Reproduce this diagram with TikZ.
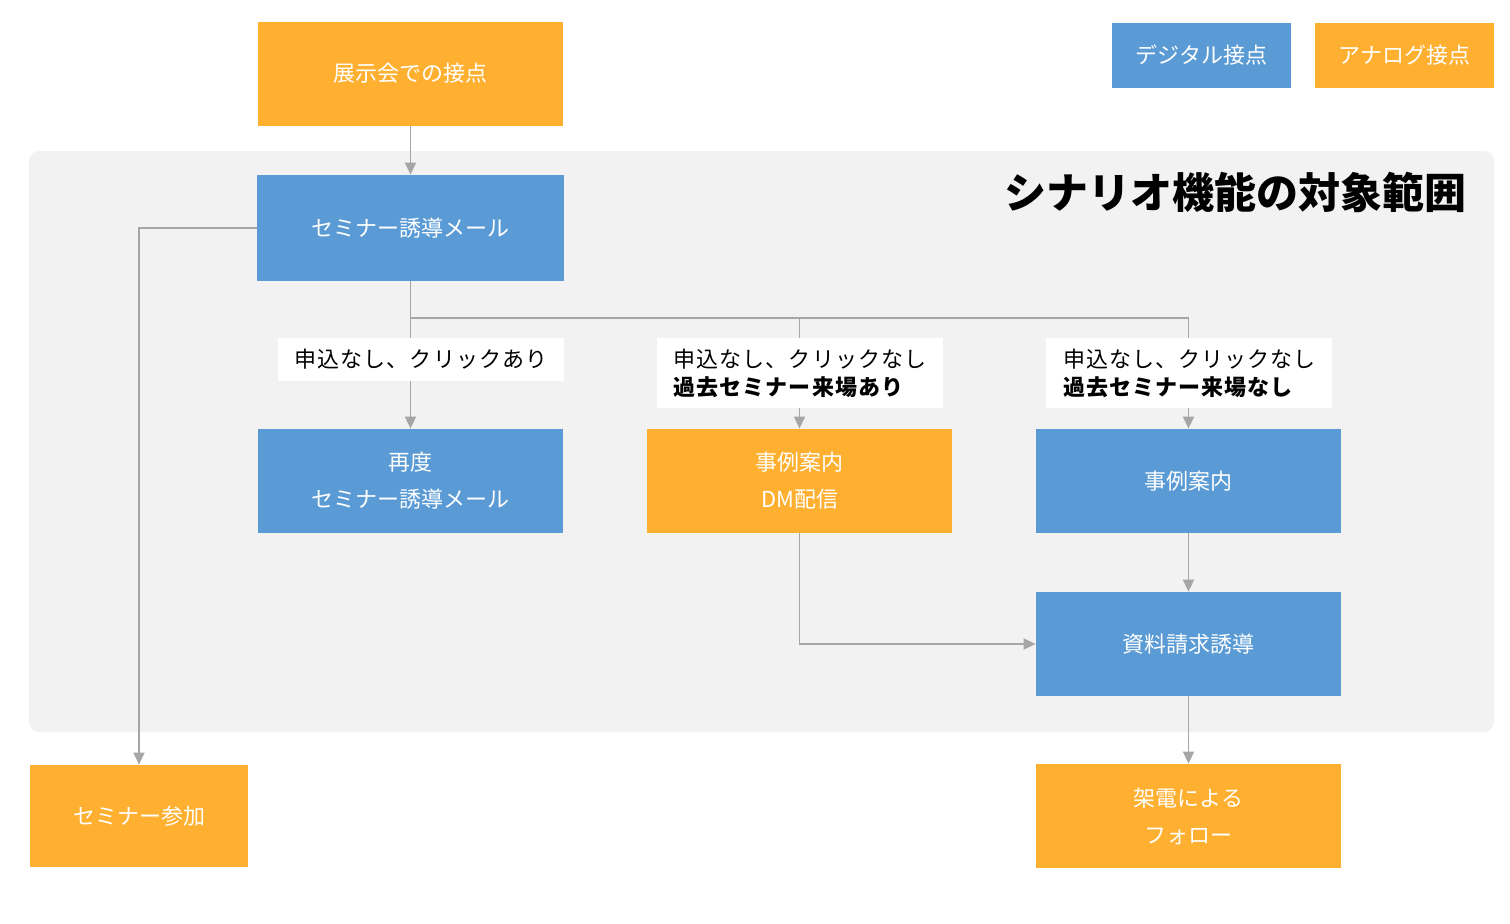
\documentclass[tikz,border=0pt]{standalone}
\usepackage{fontspec}
\usetikzlibrary{arrows.meta}
\newfontfamily\jp{Noto Sans CJK JP}
\newfontfamily\jpwide[LetterSpace=5]{Noto Sans CJK JP}
\definecolor{digiblue}{HTML}{5B9BD5}
\definecolor{anaorange}{HTML}{FFB030}
\definecolor{areagray}{HTML}{F2F2F2}
\definecolor{linegray}{HTML}{A6A6A6}
\tikzset{
	digital/.style={fill=digiblue, text=white, align=center, minimum width=152.5pt, minimum height=52pt, font=\jp\fontsize{11}{18.5}\selectfont},
	analog/.style={digital, fill=anaorange},
	lbl/.style={fill=white, inner xsep=8.5pt, inner ysep=0pt, minimum height=21.5pt, text width=126pt, align=left, font=\jpwide\fontsize{11}{14}\selectfont},
	conn/.style={draw=linegray, line width=0.8pt},
	arr/.style={conn, -{Triangle[length=6pt,width=5.5pt]}, color=linegray}
}
\begin{document}
\begin{tikzpicture}[x=0.5pt, y=-0.5pt]
	\useasboundingbox (0,0) rectangle (1510,923);
	% area of the scenario function
	\fill[areagray, rounded corners=5pt] (29,151) rectangle (1494,732);
	\node[anchor=east, inner sep=0pt, font=\jp\bfseries\fontsize{21}{24}\selectfont] (title) at (1467,192) {シナリオ機能の対象範囲};

	% legend
	\node[digital, minimum width=89.5pt, minimum height=32.5pt] (legdig) at (1201.5,55.5) {デジタル接点};
	\node[analog, minimum width=89.5pt, minimum height=32.5pt] (legana) at (1404.5,55.5) {アナログ接点};

	% boxes
	\node[analog] (tenji) at (410.5,73.5) {展示会での接点};
	\node[digital, minimum width=153.5pt, minimum height=53pt] (mail) at (410.5,228) {セミナー誘導メール};
	\node[digital] (saido) at (410.5,481) {再度\\セミナー誘導メール};
	\node[analog] (dm) at (799.5,481) {事例案内\\DM配信};
	\node[digital] (jirei) at (1188.5,481) {事例案内};
	\node[digital] (shiryo) at (1188.5,644) {資料請求誘導};
	\node[analog] (kaden) at (1188.5,816) {架電による\\フォロー};
	\node[analog, minimum width=109pt, minimum height=51pt] (sanka) at (139,816) {セミナー参加};

	% connectors
	\coordinate (fork) at (410.5,318);
	\draw[arr] (tenji) -- (mail);
	\draw[arr] (mail.west) -| (sanka.north);
	\draw[conn] (mail) -- (fork) -- (fork -| jirei);
	\draw[arr] (fork) -- (saido);
	\draw[arr] (fork -| dm) -- (dm);
	\draw[arr] (fork -| jirei) -- (jirei);
	\draw[arr] (dm.south) |- (shiryo.west);
	\draw[arr] (jirei) -- (shiryo);
	\draw[arr] (shiryo) -- (kaden);

	% conditions
	\node[lbl] (cond1) at (420.5,359.5) {申込なし、クリックあり};
	\node[lbl, minimum height=35pt] (cond2) at (799.5,373) {申込なし、クリックなし\\\textbf{過去セミナー来場あり}};
	\node[lbl, minimum height=35pt] (cond3) at (1189,373) {申込なし、クリックなし\\\textbf{過去セミナー来場なし}};
\end{tikzpicture}
\end{document}
